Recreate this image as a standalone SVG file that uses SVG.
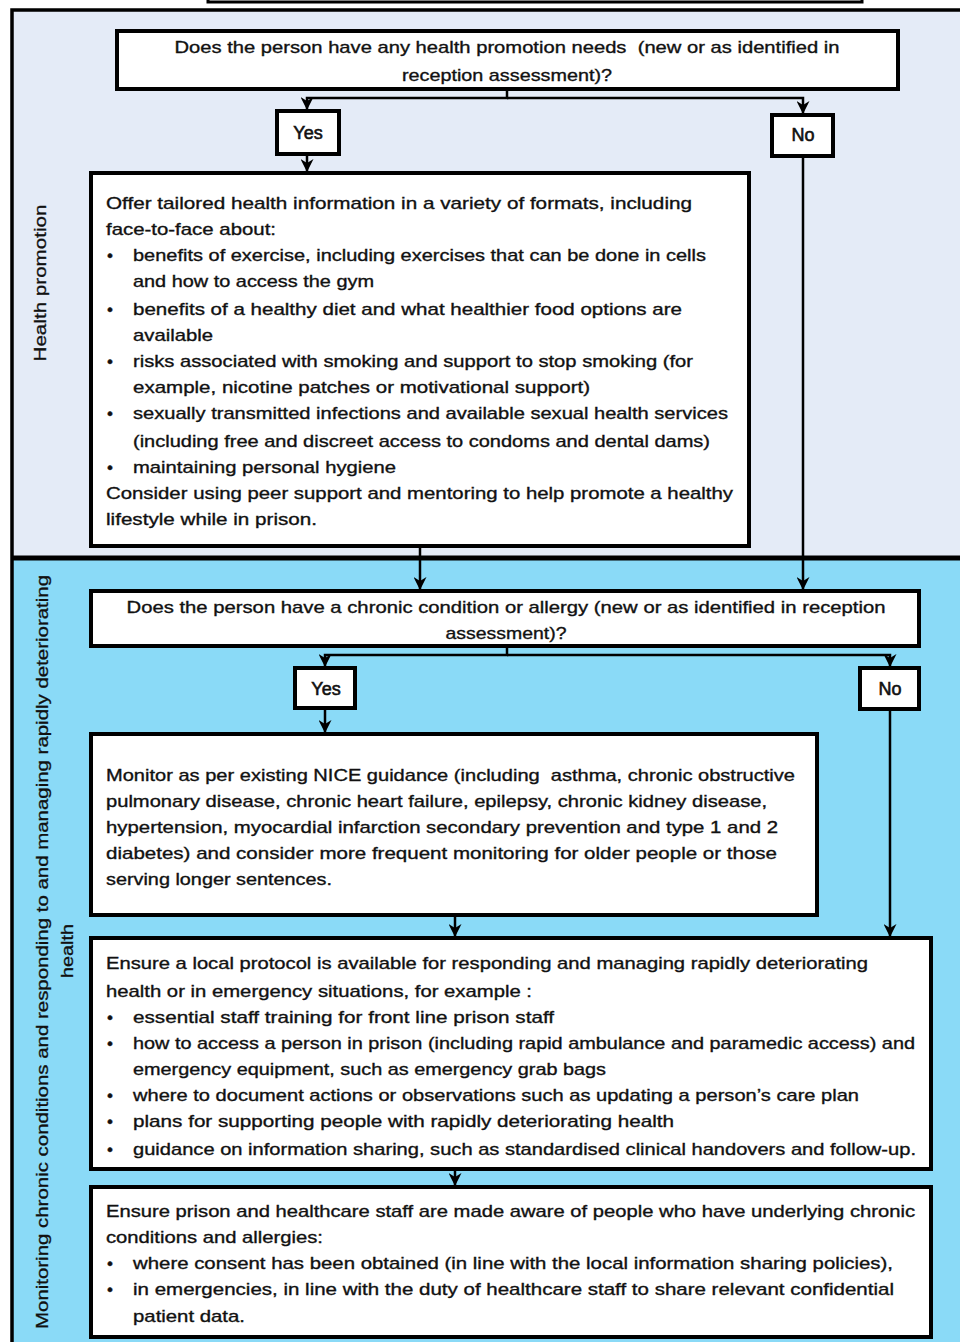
<svg xmlns="http://www.w3.org/2000/svg" width="960" height="1342" viewBox="0 0 960 1342">
  <style>
    .box { fill: #ffffff; stroke: #000000; stroke-width: 4; }
    .conn { fill: none; stroke: #000000; stroke-width: 2.5; }
    .t { font-family: "Liberation Sans", Arial, sans-serif; font-size: 17px; fill: #111111; stroke: #111111; stroke-width: 0.35; }
    .c { text-anchor: middle; }
    .yn { font-size: 18px; stroke-width: 0.6; }
    .side { font-family: "Liberation Sans", Arial, sans-serif; font-size: 17px; fill: #111111; stroke: #111111; stroke-width: 0.3; text-anchor: middle; }
  </style>
  <defs>
    <marker id="arrow" viewBox="0 0 10 10" refX="10" refY="5" markerWidth="13" markerHeight="13" markerUnits="userSpaceOnUse" orient="auto">
      <path d="M0,0 L10,5 L0,10 L3,5 z" fill="#000000"/>
    </marker>
  </defs>

  <!-- page background and panels -->
  <rect x="0" y="0" width="960" height="1342" fill="#ffffff"/>
  <rect x="208" y="-20" width="654" height="22" fill="#ffffff" stroke="#000000" stroke-width="3"/>
  <rect x="12" y="10" width="960" height="548" fill="#E4EBF7"/>
  <rect x="12" y="558" width="960" height="790" fill="#8ADAF7"/>
  <rect x="12" y="10" width="960" height="1345" fill="none" stroke="#000000" stroke-width="3.5"/>
  <line x1="12" y1="558" x2="960" y2="558" stroke="#000000" stroke-width="5"/>

  <!-- section labels -->
  <g id="label-health-promotion">
    <text class="side" transform="translate(46,283) rotate(-90)" textLength="157" lengthAdjust="spacingAndGlyphs">Health promotion</text>
  </g>
  <g id="label-chronic">
    <text class="side" transform="translate(48,952) rotate(-90)" textLength="754" lengthAdjust="spacingAndGlyphs">Monitoring chronic conditions and responding to and managing rapidly deteriorating</text>
    <text class="side" transform="translate(73,951) rotate(-90)" textLength="54" lengthAdjust="spacingAndGlyphs">health</text>
  </g>

  <!-- connectors -->
  <g id="connectors">
    <path class="conn" d="M507,89 V98 H307 V110" marker-end="url(#arrow)"/>
    <path class="conn" d="M507,98 H803 V114" marker-end="url(#arrow)"/>
    <path class="conn" d="M307,155 V172" marker-end="url(#arrow)"/>
    <path class="conn" d="M803,157 V590" marker-end="url(#arrow)"/>
    <path class="conn" d="M420,547 V590" marker-end="url(#arrow)"/>
    <path class="conn" d="M507,647 V655 H325 V667" marker-end="url(#arrow)"/>
    <path class="conn" d="M507,655 H890 V667" marker-end="url(#arrow)"/>
    <path class="conn" d="M325,708 V733" marker-end="url(#arrow)"/>
    <path class="conn" d="M455,916 V937" marker-end="url(#arrow)"/>
    <path class="conn" d="M890,710 V937" marker-end="url(#arrow)"/>
    <path class="conn" d="M455,1170 V1186" marker-end="url(#arrow)"/>
  </g>

  <!-- question 1 -->
  <g id="q-health-promotion">
    <rect class="box" x="117" y="31" width="781" height="58"/>
    <text class="t c" x="507" y="53" textLength="665" lengthAdjust="spacingAndGlyphs" xml:space="preserve">Does the person have any health promotion needs  (new or as identified in</text>
    <text class="t c" x="507" y="81" textLength="210" lengthAdjust="spacingAndGlyphs">reception assessment)?</text>
  </g>

  <g id="yes-1">
    <rect class="box" x="277" y="111" width="62" height="43"/>
    <text class="t c yn" x="308" y="139">Yes</text>
  </g>
  <g id="no-1">
    <rect class="box" x="772" y="115" width="61" height="41"/>
    <text class="t c yn" x="803" y="141">No</text>
  </g>

  <!-- health information box -->
  <g id="health-information">
    <rect class="box" x="91" y="173" width="658" height="373"/>
    <text class="t" x="106" y="209" textLength="586" lengthAdjust="spacingAndGlyphs">Offer tailored health information in a variety of formats, including</text>
    <text class="t" x="106" y="235" textLength="170" lengthAdjust="spacingAndGlyphs">face-to-face about:</text>
    <text class="t" x="107" y="261">•</text>
    <text class="t" x="133" y="261" textLength="573" lengthAdjust="spacingAndGlyphs">benefits of exercise, including exercises that can be done in cells</text>
    <text class="t" x="133" y="287" textLength="241" lengthAdjust="spacingAndGlyphs">and how to access the gym</text>
    <text class="t" x="107" y="315">•</text>
    <text class="t" x="133" y="315" textLength="549" lengthAdjust="spacingAndGlyphs">benefits of a healthy diet and what healthier food options are</text>
    <text class="t" x="133" y="341" textLength="80" lengthAdjust="spacingAndGlyphs">available</text>
    <text class="t" x="107" y="367">•</text>
    <text class="t" x="133" y="367" textLength="560" lengthAdjust="spacingAndGlyphs">risks associated with smoking and support to stop smoking (for</text>
    <text class="t" x="133" y="393" textLength="457" lengthAdjust="spacingAndGlyphs">example, nicotine patches or motivational support)</text>
    <text class="t" x="107" y="419">•</text>
    <text class="t" x="133" y="419" textLength="595" lengthAdjust="spacingAndGlyphs">sexually transmitted infections and available sexual health services</text>
    <text class="t" x="133" y="447" textLength="577" lengthAdjust="spacingAndGlyphs">(including free and discreet access to condoms and dental dams)</text>
    <text class="t" x="107" y="473">•</text>
    <text class="t" x="133" y="473" textLength="263" lengthAdjust="spacingAndGlyphs">maintaining personal hygiene</text>
    <text class="t" x="106" y="499" textLength="627" lengthAdjust="spacingAndGlyphs">Consider using peer support and mentoring to help promote a healthy</text>
    <text class="t" x="106" y="525" textLength="211" lengthAdjust="spacingAndGlyphs">lifestyle while in prison.</text>
  </g>

  <!-- question 2 -->
  <g id="q-chronic-condition">
    <rect class="box" x="91" y="591" width="828" height="55"/>
    <text class="t c" x="506" y="613" textLength="759" lengthAdjust="spacingAndGlyphs">Does the person have a chronic condition or allergy (new or as identified in reception</text>
    <text class="t c" x="506" y="639" textLength="121" lengthAdjust="spacingAndGlyphs">assessment)?</text>
  </g>

  <g id="yes-2">
    <rect class="box" x="295" y="668" width="60" height="40"/>
    <text class="t c yn" x="326" y="695">Yes</text>
  </g>
  <g id="no-2">
    <rect class="box" x="860" y="668" width="59" height="41"/>
    <text class="t c yn" x="890" y="695">No</text>
  </g>

  <!-- monitoring box -->
  <g id="monitoring">
    <rect class="box" x="91" y="734" width="726" height="181"/>
    <text class="t" x="106" y="781" textLength="689" lengthAdjust="spacingAndGlyphs" xml:space="preserve">Monitor as per existing NICE guidance (including  asthma, chronic obstructive</text>
    <text class="t" x="106" y="807" textLength="661" lengthAdjust="spacingAndGlyphs">pulmonary disease, chronic heart failure, epilepsy, chronic kidney disease,</text>
    <text class="t" x="106" y="833" textLength="672" lengthAdjust="spacingAndGlyphs">hypertension, myocardial infarction secondary prevention and type 1 and 2</text>
    <text class="t" x="106" y="859" textLength="671" lengthAdjust="spacingAndGlyphs">diabetes) and consider more frequent monitoring for older people or those</text>
    <text class="t" x="106" y="885" textLength="226" lengthAdjust="spacingAndGlyphs">serving longer sentences.</text>
  </g>

  <!-- local protocol box -->
  <g id="local-protocol">
    <rect class="box" x="91" y="938" width="840" height="231"/>
    <text class="t" x="106" y="969" textLength="762" lengthAdjust="spacingAndGlyphs">Ensure a local protocol is available for responding and managing rapidly deteriorating</text>
    <text class="t" x="106" y="997" textLength="426" lengthAdjust="spacingAndGlyphs">health or in emergency situations, for example :</text>
    <text class="t" x="107" y="1023">•</text>
    <text class="t" x="133" y="1023" textLength="421" lengthAdjust="spacingAndGlyphs">essential staff training for front line prison staff</text>
    <text class="t" x="107" y="1049">•</text>
    <text class="t" x="133" y="1049" textLength="782" lengthAdjust="spacingAndGlyphs">how to access a person in prison (including rapid ambulance and paramedic access) and</text>
    <text class="t" x="133" y="1075" textLength="473" lengthAdjust="spacingAndGlyphs">emergency equipment, such as emergency grab bags</text>
    <text class="t" x="107" y="1101">•</text>
    <text class="t" x="133" y="1101" textLength="726" lengthAdjust="spacingAndGlyphs">where to document actions or observations such as updating a person’s care plan</text>
    <text class="t" x="107" y="1127">•</text>
    <text class="t" x="133" y="1127" textLength="541" lengthAdjust="spacingAndGlyphs">plans for supporting people with rapidly deteriorating health</text>
    <text class="t" x="107" y="1155">•</text>
    <text class="t" x="133" y="1155" textLength="783" lengthAdjust="spacingAndGlyphs">guidance on information sharing, such as standardised clinical handovers and follow-up.</text>
  </g>

  <!-- staff awareness box -->
  <g id="staff-awareness">
    <rect class="box" x="91" y="1187" width="840" height="150"/>
    <text class="t" x="106" y="1217" textLength="809" lengthAdjust="spacingAndGlyphs">Ensure prison and healthcare staff are made aware of people who have underlying chronic</text>
    <text class="t" x="106" y="1243" textLength="217" lengthAdjust="spacingAndGlyphs">conditions and allergies:</text>
    <text class="t" x="107" y="1269">•</text>
    <text class="t" x="133" y="1269" textLength="760" lengthAdjust="spacingAndGlyphs">where consent has been obtained (in line with the local information sharing policies),</text>
    <text class="t" x="107" y="1295">•</text>
    <text class="t" x="133" y="1295" textLength="761" lengthAdjust="spacingAndGlyphs">in emergencies, in line with the duty of healthcare staff to share relevant confidential</text>
    <text class="t" x="133" y="1322" textLength="112" lengthAdjust="spacingAndGlyphs">patient data.</text>
  </g>
</svg>
